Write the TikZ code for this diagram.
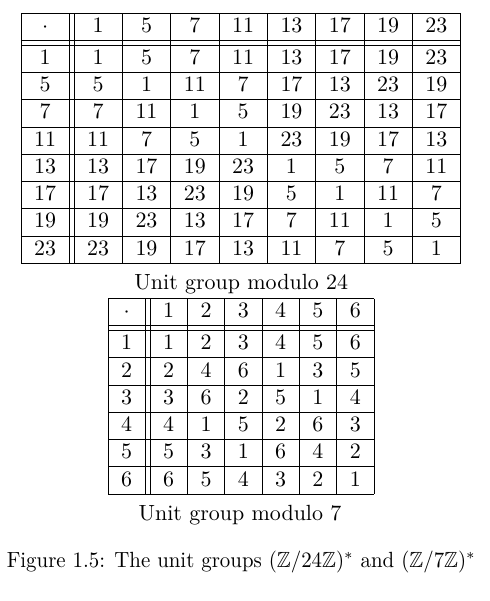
\documentclass[tikz,border=0pt]{standalone}
\usepackage{amssymb}
\begin{document}
\begin{tikzpicture}[x=0.4552pt,y=-0.4552pt]
\useasboundingbox (0,0) rectangle (489,601);
% unit group modulo 24
\draw[] (21,13.3)--(460.7,13.3);
\draw[] (21,40.55)--(460.7,40.55);
\foreach \k in {0,...,8} \draw[] (21,45.2+27.25*\k)--(460.7,45.2+27.25*\k);
\draw[] (21,13.3)--(21,263.2);
\draw[] (69.33,13.3)--(69.33,263.2);
\foreach \k in {0,...,8} \draw[] (74+48.33*\k,13.3)--(74+48.33*\k,263.2);
\node[anchor=base] (a-0-0) at (45.17,32.6) {$\cdot$};
\foreach \v [count=\j] in {1,5,7,11,13,17,19,23}{
  \node[anchor=base] (a-0-\j) at (74+48.33*\j-24.17,32.6) {$\v$};
  \node[anchor=base] (a-\j-0) at (45.17,64.5+27.25*\j-27.25) {$\v$};
}
\foreach \r [count=\i] in {{1,5,7,11,13,17,19,23},{5,1,11,7,17,13,23,19},{7,11,1,5,19,23,13,17},{11,7,5,1,23,19,17,13},{13,17,19,23,1,5,7,11},{17,13,23,19,5,1,11,7},{19,23,13,17,7,11,1,5},{23,19,17,13,11,7,5,1}}
  \foreach \v [count=\j] in \r
    \node[anchor=base] (a-\i-\j) at (74+48.33*\j-24.17,64.5+27.25*\i-27.25) {$\v$};
\node[anchor=base] (cap-a) at (241.3,289) {Unit group modulo 24};
% unit group modulo 7
\draw[] (108,298.6)--(374,298.6);
\draw[] (108,325.85)--(374,325.85);
\foreach \k in {0,...,6} \draw[] (108,330.5+27.25*\k)--(374,330.5+27.25*\k);
\draw[] (108,298.6)--(108,494);
\draw[] (145.33,298.6)--(145.33,494);
\foreach \k in {0,...,6} \draw[] (150+37.33*\k,298.6)--(150+37.33*\k,494);
\node[anchor=base] (b-0-0) at (126.67,317.9) {$\cdot$};
\foreach \v [count=\j] in {1,2,3,4,5,6}{
  \node[anchor=base] (b-0-\j) at (150+37.33*\j-18.67,317.9) {$\v$};
  \node[anchor=base] (b-\j-0) at (126.67,349.8+27.25*\j-27.25) {$\v$};
}
\foreach \r [count=\i] in {{1,2,3,4,5,6},{2,4,6,1,3,5},{3,6,2,5,1,4},{4,1,5,2,6,3},{5,3,1,6,4,2},{6,5,4,3,2,1}}
  \foreach \v [count=\j] in \r
    \node[anchor=base] (b-\i-\j) at (150+37.33*\j-18.67,349.8+27.25*\i-27.25) {$\v$};
\node[anchor=base] (cap-b) at (240,520.5) {Unit group modulo 7};
\node[anchor=base,inner sep=0pt] (fig) at (241.3,567.5) {\scalebox{0.95}[1]{Figure 1.5: The unit groups $(\mathbb{Z}/24\mathbb{Z})^*$ and $(\mathbb{Z}/7\mathbb{Z})^*$}};
\end{tikzpicture}
\end{document}
